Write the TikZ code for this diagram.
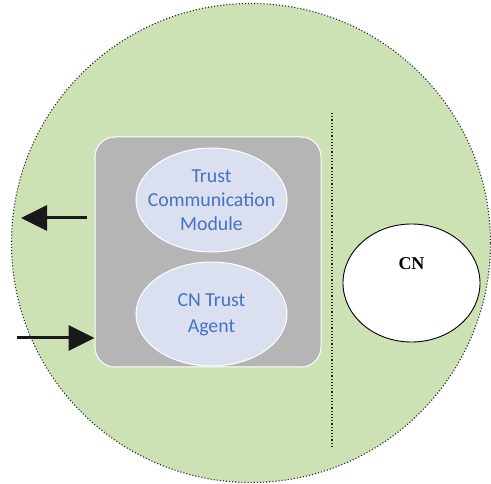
\documentclass[tikz,border=0pt]{standalone}
\usepackage{fontspec}
\setmainfont{Liberation Serif}
\newfontfamily\calib{Carlito}
\usetikzlibrary{shapes.geometric,arrows.meta}
\definecolor{zonegreen}{RGB}{205,226,180}
\definecolor{boxgray}{RGB}{181,181,181}
\definecolor{ellfill}{RGB}{218,224,240}
\definecolor{txtblue}{RGB}{68,114,196}
\tikzset{
  zone/.style={circle,draw=black!85,dotted,line width=1.1pt,fill=zonegreen,minimum size=479pt,inner sep=0pt},
  modbox/.style={rectangle,rounded corners=20pt,fill=boxgray,draw=white,line width=1pt,minimum width=226pt,minimum height=230pt,inner sep=0pt},
  module/.style={ellipse,fill=ellfill,draw=white,line width=1pt,minimum width=151pt,minimum height=104pt,inner sep=0pt},
  modtext/.style={align=center,text=txtblue,inner sep=0pt,font=\calib\fontsize{19.8}{24}\selectfont},
  cnode/.style={ellipse,fill=white,draw=black,line width=0.9pt,minimum width=137pt,minimum height=118pt,inner sep=0pt},
  bigarrow/.style={line width=3pt,-{Triangle[length=26pt,width=25pt]},black!90},
  divider/.style={dotted,line width=1.2pt,black!85}
}
\begin{document}
\begin{tikzpicture}[x=1pt,y=-1pt]
\useasboundingbox (0,0) rectangle (491,484);
\node[zone] (zone) at (251,243) {};
\node[modbox] (box) at (208,252) {};
\node[module] (tcm) at (211.5,200) {};
\node[modtext] (tcmlabel) at (tcm.center) {Trust\\Communication\\Module};
\node[module] (agent) at (211.5,314) {};
\node[modtext,font=\calib\fontsize{19.8}{26}\selectfont] (agentlabel) at ([yshift=-1pt]agent.center) {CN Trust\\Agent};
\coordinate (divtop) at (332,113);
\coordinate (divbot) at (332,447);
\draw[divider] (divtop) -- (divbot);
\node[cnode] (cn) at (411.5,283) {};
\node[font=\bfseries\fontsize{18}{20}\selectfont] (cnlabel) at (411.5,264) {CN};
\coordinate (outstart) at (87,218);
\coordinate (outend) at (21,218);
\draw[bigarrow] (outstart) -- (outend);
\coordinate (instart) at (17,338);
\draw[bigarrow] (instart) -- (instart -| box.west);
\end{tikzpicture}
\end{document}
